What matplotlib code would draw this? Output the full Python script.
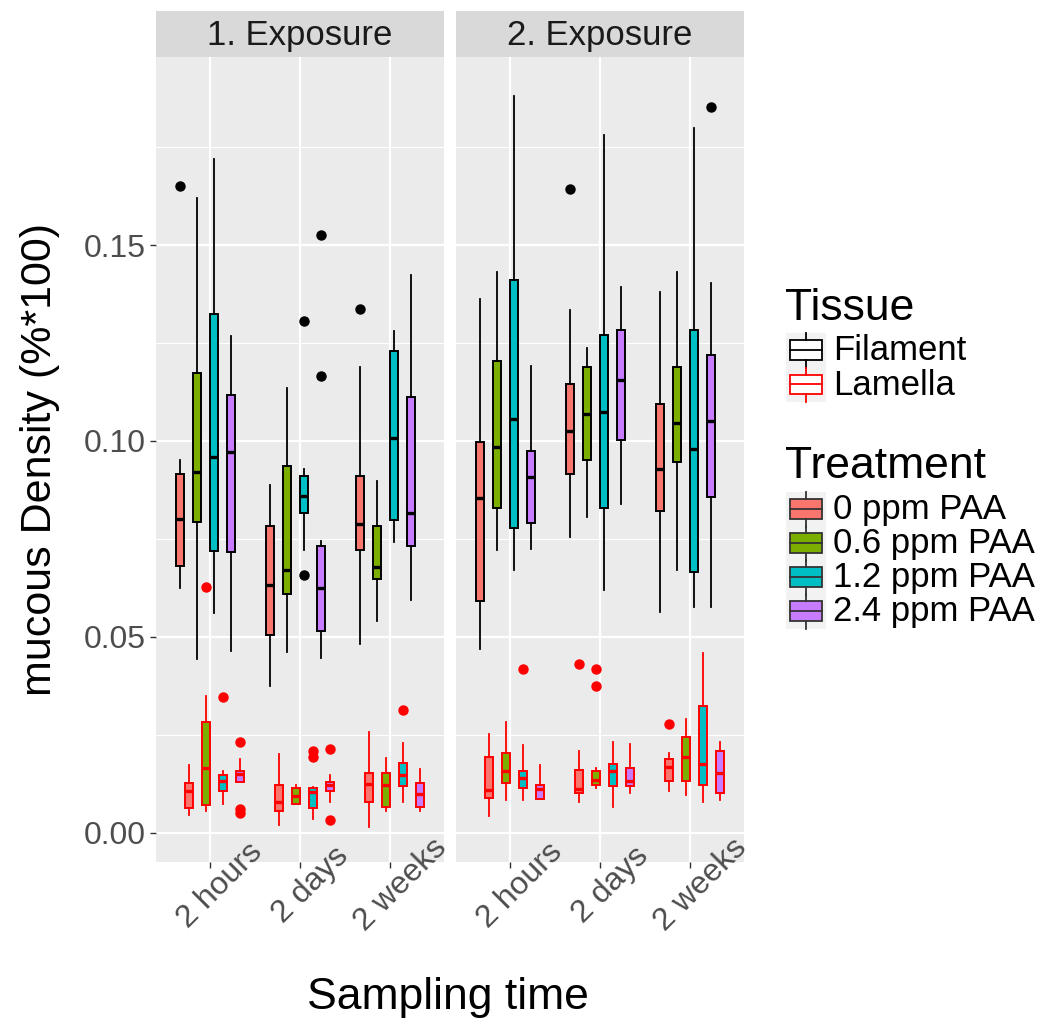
import matplotlib
matplotlib.use("Agg")
import matplotlib.pyplot as plt
from matplotlib.patches import Rectangle

plt.rcParams['font.family'] = ['Liberation Sans', 'DejaVu Sans']

# categories
times = ["2 hours", "2 days", "2 weeks"]
treatments = ["0 ppm PAA", "0.6 ppm PAA", "1.2 ppm PAA", "2.4 ppm PAA"]
exposures = ["1. Exposure", "2. Exposure"]
tissues = ["Filament", "Lamella"]
treat_colors = ["#F8766D", "#7CAE00", "#00BFC4", "#C77CFF"]
tissue_colors = ["black", "red"]

# box summaries: (whisker low, Q1, median, Q3, whisker high)
# rows = sampling time, columns = treatment
fil_exp1 = [
    [(0.0624, 0.068, 0.080, 0.0915, 0.095), (0.0444, 0.0793, 0.092, 0.1174, 0.162),
     (0.0561, 0.072, 0.096, 0.1325, 0.172), (0.0464, 0.0715, 0.0972, 0.1118, 0.1267)],
    [(0.0375, 0.0505, 0.0631, 0.0782, 0.0888), (0.046, 0.0609, 0.0671, 0.0935, 0.1135),
     (0.0722, 0.0817, 0.0858, 0.0911, 0.0927), (0.0445, 0.0515, 0.0624, 0.0731, 0.0743)],
    [(0.0482, 0.0722, 0.0788, 0.0911, 0.1189), (0.0539, 0.0646, 0.0678, 0.0782, 0.0897),
     (0.0742, 0.0797, 0.1007, 0.1229, 0.128), (0.0593, 0.0731, 0.0816, 0.1111, 0.1423)],
]
fil_exp1_out = [[[0.165], [], [], []],
                [[], [], [0.1306, 0.0657], [0.1525, 0.1165]],
                [[0.1337], [], [], []]]

lam_exp1 = [
    [(0.0045, 0.0062, 0.0105, 0.0126, 0.0173), (0.0054, 0.007, 0.0164, 0.0282, 0.0349),
     (0.0073, 0.0105, 0.0132, 0.0146, 0.0158), (0.0128, 0.0128, 0.0149, 0.0158, 0.0188)],
    [(0.0018, 0.0054, 0.0077, 0.0122, 0.020), (0.0073, 0.0073, 0.0092, 0.0113, 0.0122),
     (0.0035, 0.0062, 0.0103, 0.0113, 0.0115), (0.0079, 0.0105, 0.0122, 0.0128, 0.0147)],
    [(0.0015, 0.0077, 0.0124, 0.0153, 0.0256), (0.0054, 0.0065, 0.0122, 0.0153, 0.019),
     (0.0077, 0.0118, 0.0146, 0.0177, 0.0228), (0.0054, 0.0066, 0.0098, 0.0126, 0.0162)],
]
lam_exp1_out = [[[], [0.0626], [0.0345], [0.0231, 0.0060, 0.0049]],
                [[], [], [0.0209, 0.0192], [0.0213, 0.0032]],
                [[], [], [0.0313], []]]

fil_exp2 = [
    [(0.0468, 0.059, 0.0854, 0.0997, 0.1361), (0.0722, 0.0829, 0.0984, 0.1203, 0.1432),
     (0.0671, 0.0777, 0.1057, 0.141, 0.188), (0.0725, 0.079, 0.0907, 0.0973, 0.1192)],
    [(0.0754, 0.0915, 0.1026, 0.1145, 0.1334), (0.0805, 0.095, 0.1069, 0.1188, 0.1236),
     (0.0618, 0.0829, 0.1073, 0.127, 0.178), (0.084, 0.1001, 0.1155, 0.1282, 0.1392)],
    [(0.0562, 0.082, 0.0928, 0.1094, 0.138), (0.0669, 0.0946, 0.1046, 0.1188, 0.1432),
     (0.0577, 0.0665, 0.0979, 0.1282, 0.1799), (0.0575, 0.0857, 0.105, 0.1219, 0.1403)],
]
fil_exp2_out = [[[], [], [], []],
                [[0.1642], [], [], []],
                [[], [], [], [0.1853]]]

lam_exp2 = [
    [(0.0043, 0.0089, 0.0109, 0.0192, 0.0251), (0.0082, 0.0126, 0.0156, 0.0202, 0.0282),
     (0.0082, 0.0113, 0.0139, 0.0156, 0.0224), (0.0085, 0.0085, 0.0111, 0.0122, 0.0173)],
    [(0.0077, 0.0102, 0.0111, 0.016, 0.0209), (0.0113, 0.0122, 0.0133, 0.0156, 0.0164),
     (0.0065, 0.0118, 0.0156, 0.0175, 0.0231), (0.010, 0.0118, 0.0132, 0.0164, 0.0226)],
    [(0.0105, 0.0132, 0.0167, 0.0188, 0.0204), (0.0096, 0.0132, 0.0194, 0.0243, 0.029),
     (0.0077, 0.0122, 0.0174, 0.0324, 0.0458), (0.0082, 0.010, 0.0151, 0.0207, 0.0231)],
]
lam_exp2_out = [[[], [], [0.0418], []],
                [[0.043], [0.0418, 0.0375], [], []],
                [[0.0278], [], [], []]]

y_ticks = [0.00, 0.05, 0.10, 0.15]

panels = [[(fil_exp1, fil_exp1_out), (lam_exp1, lam_exp1_out)],
          [(fil_exp2, fil_exp2_out), (lam_exp2, lam_exp2_out)]]

W, H = 1056, 1026
fig = plt.figure(figsize=(W / 100, H / 100), dpi=100)


def fx(px):
    return px / W


def fy(py):
    return 1 - py / H


slot = 0.75 / 8
panel_left = [156, 456]
panel_w = 288
for p, exp in enumerate(exposures):
    ax = fig.add_axes([fx(panel_left[p]), fy(862), panel_w / W, 805 / H])
    ax.set_facecolor("#EBEBEB")
    for s in ax.spines.values():
        s.set_visible(False)
    ax.set_xlim(0.4, 3.6)
    ax.set_ylim(-0.00753, 0.198)
    ax.set_yticks(y_ticks)
    ax.set_yticks([0.025, 0.075, 0.125, 0.175], minor=True)
    ax.set_xticks([1, 2, 3])
    ax.grid(True, which="major", color="white", lw=1.6, zorder=0)
    ax.grid(True, which="minor", axis="y", color="white", lw=0.8, zorder=0)
    ax.set_axisbelow(True)
    ax.tick_params(which="minor", length=0)
    ax.tick_params(axis="both", which="major", length=4, width=1, color="#333333",
                   labelcolor="#4D4D4D", labelsize=23)
    ax.set_xticklabels(times, rotation=45, ha="center", va="top",
                       rotation_mode="anchor")
    ax.tick_params(axis="x", pad=5)
    if p == 0:
        ax.set_yticklabels([f"{v:.2f}" for v in y_ticks])
    else:
        ax.tick_params(axis="y", which="both", length=0, labelleft=False)

    for t_i, (summ, outs) in enumerate(panels[p]):
        ecol = tissue_colors[t_i]
        for k in range(4):
            stats, pos = [], []
            for j in range(3):
                lo, q1, med, q3, hi = summ[j][k]
                stats.append(dict(whislo=lo, q1=q1, med=med, q3=q3, whishi=hi,
                                  fliers=outs[j][k]))
                pos.append(j + 1 - 0.375 + slot * (2 * k + t_i + 0.5))
            ax.bxp(stats, positions=pos, widths=slot * 0.95, patch_artist=True,
                   showcaps=False,
                   boxprops=dict(facecolor=treat_colors[k], edgecolor=ecol, lw=1.4),
                   medianprops=dict(color=ecol, lw=2.4, solid_capstyle="butt"),
                   whiskerprops=dict(color=ecol, lw=1.3),
                   flierprops=dict(marker="o", markerfacecolor=ecol,
                                   markeredgecolor=ecol, markersize=6.5),
                   manage_ticks=False, zorder=3)

    # facet strip
    sax = fig.add_axes([fx(panel_left[p]), fy(57), panel_w / W, 46 / H])
    sax.set_facecolor("#D9D9D9")
    sax.set_xticks([])
    sax.set_yticks([])
    for s in sax.spines.values():
        s.set_visible(False)
    sax.text(0.5, 0.47, exp, ha="center", va="center", fontsize=25,
             color="#1A1A1A", transform=sax.transAxes)

fig.text(fx(40), fy(459), "mucous Density (%*100)", rotation=90, ha="center",
         va="center", fontsize=31)
fig.text(fx(448), fy(998), "Sampling time", ha="center", va="center", fontsize=32)

# legend
lax = fig.add_axes([0, 0, 1, 1])
lax.set_xlim(0, W)
lax.set_ylim(H, 0)
lax.axis("off")


def key(y0, fill, edge):
    lax.add_patch(Rectangle((786, y0), 40, 34.5, facecolor="#F2F2F2", edgecolor="none"))
    lax.add_patch(Rectangle((790, y0 + 7), 32, 19.5, facecolor=fill, edgecolor=edge, lw=1.3))
    lax.plot([790, 822], [y0 + 16.75, y0 + 16.75], color=edge, lw=1.3)
    lax.plot([806, 806], [y0, y0 + 7], color=edge, lw=1.3)
    lax.plot([806, 806], [y0 + 26.5, y0 + 34.5], color=edge, lw=1.3)


lax.text(785, 309, "Tissue", fontsize=32, va="center", ha="left")
for i, name in enumerate(tissues):
    y0 = 333 + 34.5 * i
    key(y0, "white", tissue_colors[i])
    lax.text(833, y0 + 18, name, fontsize=25, va="center", ha="left")

lax.text(785, 466, "Treatment", fontsize=32, va="center", ha="left")
for i, name in enumerate(treatments):
    y0 = 492 + 34 * i
    key(y0, treat_colors[i], "#333333")
    lax.text(833, y0 + 18, name, fontsize=25, va="center", ha="left")

fig.savefig("out.png", dpi=100)
